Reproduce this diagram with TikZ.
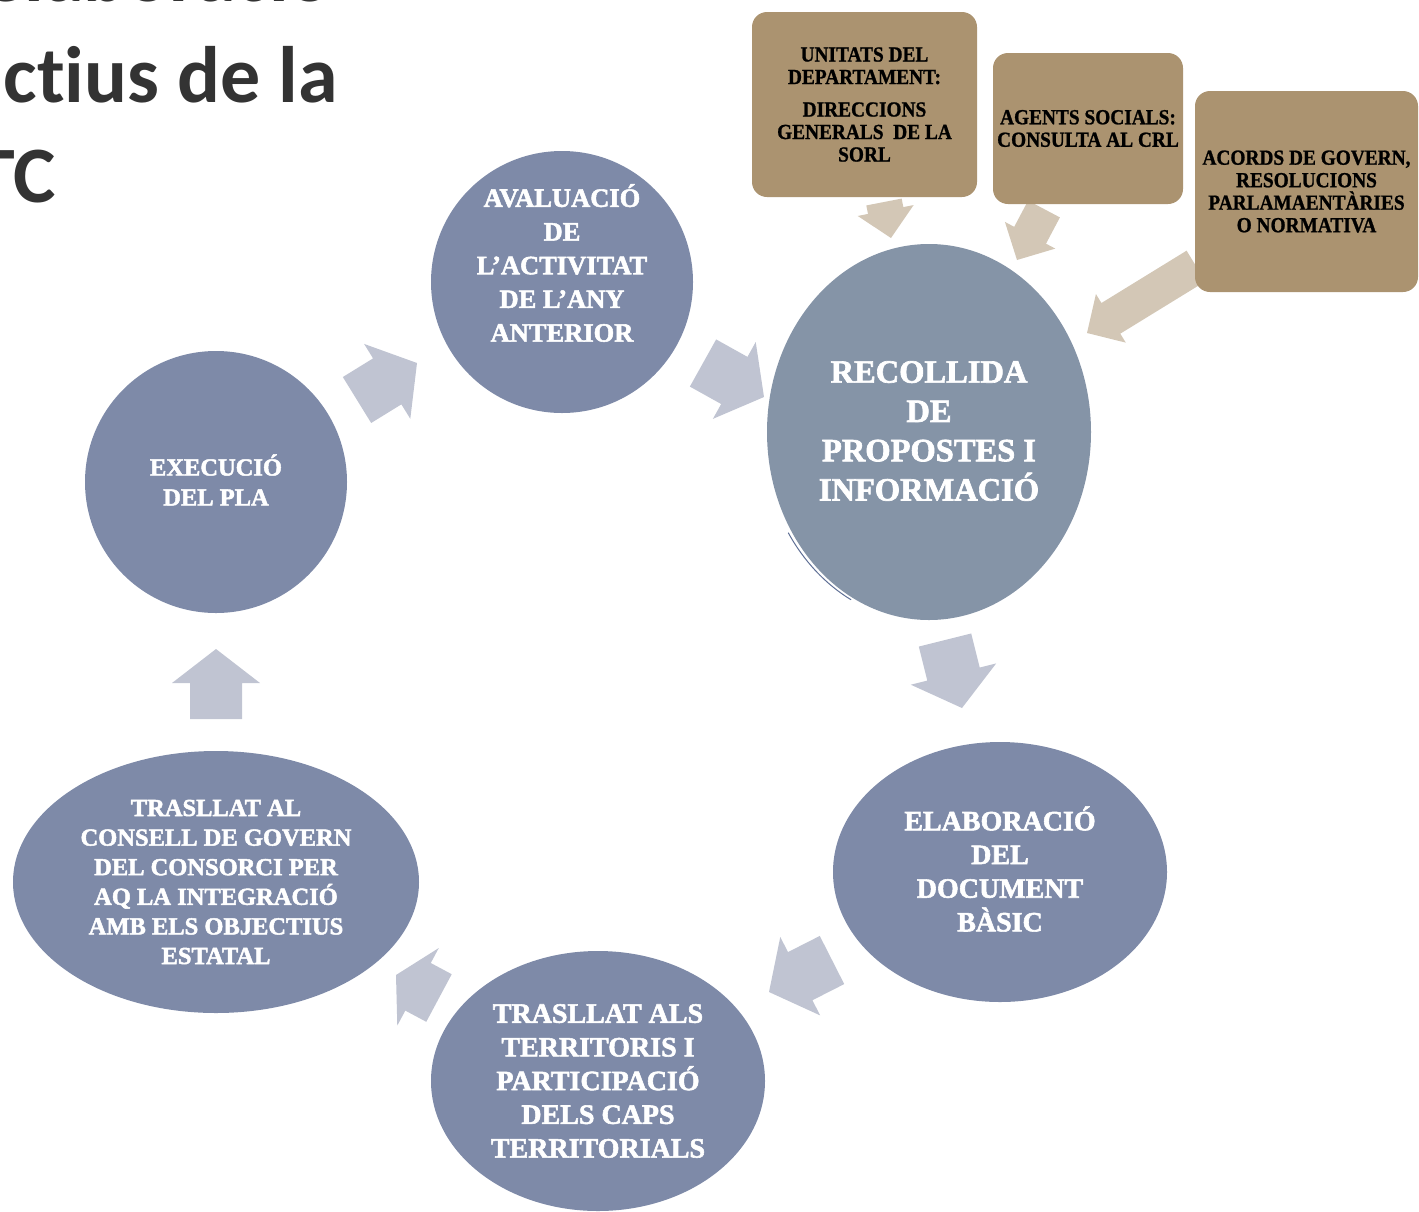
\documentclass[tikz,border=0pt]{standalone}
\usepackage{fontspec}
\setmainfont{Liberation Serif}
\newfontfamily\lblfont{Liberation Serif}[BoldFeatures={FakeBold=2}]
\newfontfamily\boxfont{Liberation Serif}[BoldFeatures={FakeBold=1,FakeStretch=0.9}]
\newfontfamily\titlefont{Carlito}[Ligatures={NoCommon}]
\usetikzlibrary{shapes.geometric,calc}
\definecolor{blob}{HTML}{7E8AA8}
\definecolor{blobB}{HTML}{8594A7}
\definecolor{arr}{HTML}{C0C4D2}
\definecolor{brownbox}{HTML}{AB9370}
\definecolor{brarr}{HTML}{D3C7B6}
\definecolor{ttl}{HTML}{333333}
\definecolor{rim}{HTML}{5F6F95}
\newcommand{\blockarr}[6]{% colour, tail, tip, shaft half, head half, head length
  \coordinate (tmpC) at ($(#3)!#6pt!(#2)$);
  \fill[#1] ($(#2)!#4pt!90:(#3)$) -- ($(tmpC)!#4pt!90:(#3)$) -- ($(tmpC)!#5pt!90:(#3)$)
    -- (#3) -- ($(tmpC)!#5pt!-90:(#3)$) -- ($(tmpC)!#4pt!-90:(#3)$)
    -- ($(#2)!#4pt!-90:(#3)$) -- cycle;
}
\tikzset{
  blobcirc/.style={circle, fill=blob, inner sep=0, minimum size=#1},
  blobell/.style={ellipse, fill=blob, inner sep=0},
  lbl/.style={text=white, align=center, inner sep=0},
  boxn/.style={rectangle, rounded corners=15, fill=brownbox, inner sep=0,
    text=black, align=center, font=\boxfont\bfseries\fontsize{21.5}{22.5}\selectfont},
  ttltext/.style={inner sep=0, anchor=base east, text=ttl,
    font=\titlefont\bfseries\fontsize{80}{97}\selectfont},
}
\begin{document}
\begin{tikzpicture}[x=1pt,y=-1pt]
\useasboundingbox (0,0) rectangle (1419,1211);
\clip (0,0) rectangle (1419,1211);

% title fragments
\node[ttltext] (t1) at (332,1) {d’elaboració};
\node[ttltext] (t2) at (338,102) {c\kern0pt t\kern0pt ius de la};
\node[ttltext] (t3) at (56,202) {TC};

% shapes
\node[blobcirc=262] (ava) at (562,282) {};
\node[blobcirc=262] (exe) at (216,482) {};
\draw[rim, line width=1] ($(929,432)+(148:166 and 190)$) arc[start angle=148, end angle=118, x radius=166, y radius=190];
\node[blobell, fill=blobB, minimum width=324, minimum height=376] (rec) at (929,432) {};
\node[blobell, minimum width=334, minimum height=260] (ela) at (1000,872) {};
\node[blobell, minimum width=334, minimum height=260] (trs) at (598,1081) {};
\node[blobell, minimum width=406, minimum height=262] (trc) at (216,882) {};

% labels
\node[lbl, font=\lblfont\bfseries\fontsize{26.5}{33.7}\selectfont] (avaT) at (562,263)
  {AVALUACIÓ\\DE\\L’ACTIVITAT\\DE L’ANY\\ANTERIOR};
\node[lbl, font=\lblfont\bfseries\fontsize{24.5}{30}\selectfont] (exeT) at (216,480)
  {EXECUCIÓ\\DEL PLA};
\node[lbl, font=\lblfont\bfseries\fontsize{32.5}{39.3}\selectfont] (recT) at (929,431)
  {RECOLLIDA\\DE\\PROPOSTES I\\INFORMACIÓ};
\node[lbl, font=\lblfont\bfseries\fontsize{28}{33.7}\selectfont] (elaT) at (1000,869)
  {ELABORACIÓ\\DEL\\DOCUMENT\\BÀSIC};
\node[lbl, font=\lblfont\bfseries\fontsize{28}{33.7}\selectfont] (trsT) at (598,1081)
  {TRASLLAT ALS\\TERRITORIS I\\PARTICIPACIÓ\\DELS CAPS\\TERRITORIALS};
\node[lbl, font=\lblfont\bfseries\fontsize{24.5}{29.6}\selectfont] (trcT) at (216,882)
  {TRASLLAT AL\\CONSELL DE GOVERN\\DEL CONSORCI PER\\AQ LA INTEGRACIÓ\\AMB ELS OBJECTIUS\\ESTATAL};

% cycle arrows
\coordinate (g1a) at (357,400); \coordinate (g1b) at (417,363);
\coordinate (g2a) at (703,363); \coordinate (g2b) at (764,397);
\coordinate (g3a) at (945,640); \coordinate (g3b) at (962,708);
\coordinate (g4a) at (832,960); \coordinate (g4b) at (769,992);
\coordinate (g5a) at (439,998); \coordinate (g5b) at (396,975);
\coordinate (g6a) at (216,719); \coordinate (g6b) at (216,649);
\blockarr{arr}{g1a}{g1b}{27}{44}{35}
\blockarr{arr}{g2a}{g2b}{27}{44}{34}
\blockarr{arr}{g3a}{g3b}{27}{44}{35}
\blockarr{arr}{g4a}{g4b}{27}{44}{35}
\blockarr{arr}{g5a}{g5b}{27}{44}{25}
\blockarr{arr}{g6a}{g6b}{26}{44}{34}

% input arrows
\coordinate (b1a) at (884,202); \coordinate (b1b) at (891,238);
\coordinate (b2a) at (1044,209); \coordinate (b2b) at (1017,260);
\coordinate (b3a) at (1196,266); \coordinate (b3b) at (1087,333);
\blockarr{brarr}{b1a}{b1b}{18}{28.5}{28}
\blockarr{brarr}{b2a}{b2b}{18}{28.5}{28}
\blockarr{brarr}{b3a}{b3b}{18}{28.5}{28}

% boxes
\node[boxn, minimum width=225, minimum height=185] (box1) at (864.5,104.5)
  {UNITATS DEL\\DEPARTAMENT:\\[10pt]DIRECCIONS\\GENERALS\ \ DE LA\\SORL};
\node[boxn, minimum width=190, minimum height=151] (box2) at (1088,128.5)
  {AGENTS SOCIALS:\\CONSULTA AL CRL};
\node[boxn, minimum width=223, minimum height=201] (box3) at (1306.5,191.5)
  {ACORDS DE GOVERN,\\RESOLUCIONS\\PARLAMAENTÀRIES\\O NORMATIVA};
\end{tikzpicture}
\end{document}
